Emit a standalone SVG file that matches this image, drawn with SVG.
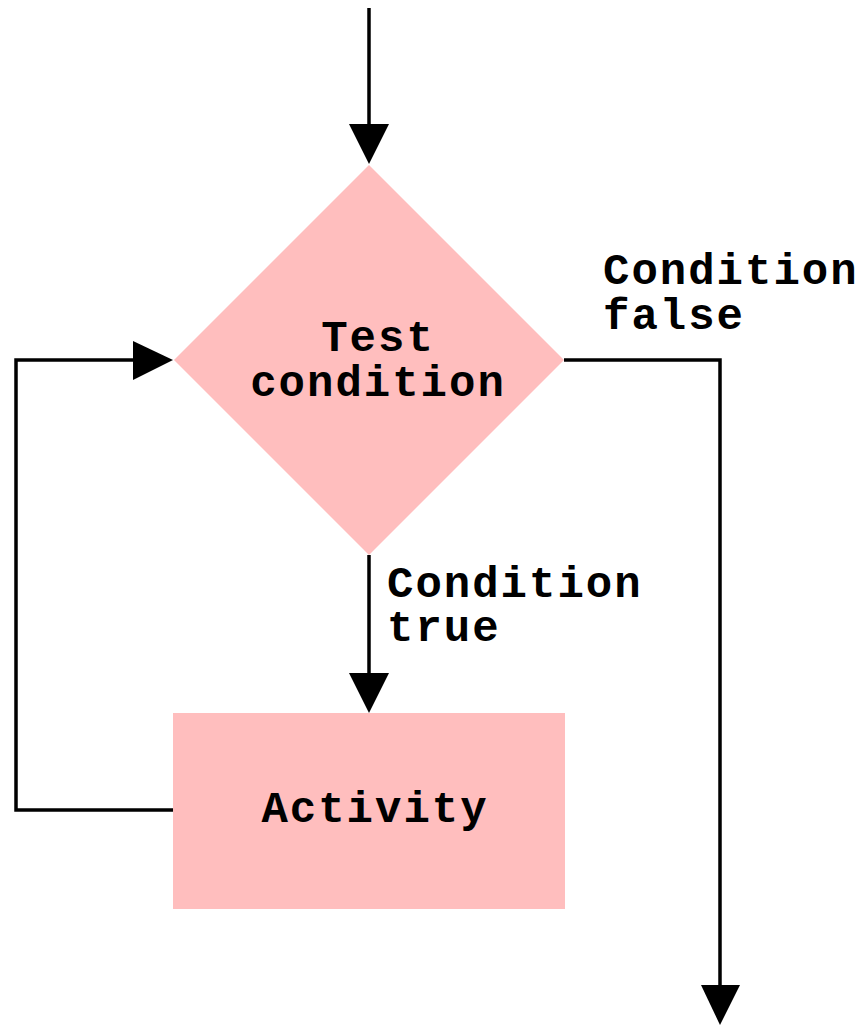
<svg xmlns="http://www.w3.org/2000/svg" width="864" height="1027" viewBox="0 0 864 1027">
  <style>
    .shape { fill: #FFBEBE; stroke: none; }
    .wire { fill: none; stroke: #000; stroke-width: 3.5; }
    .head { fill: #000; stroke: none; }
    .lbl { font-family: "Liberation Mono", "Courier New", monospace; font-weight: bold; font-size: 44px; letter-spacing: 2px; fill: #000; }
  </style>
  <rect width="864" height="1027" fill="#fff"/>

  <g id="connectors">
    <!-- entry -->
    <line class="wire" x1="369" y1="8" x2="369" y2="128"/>
    <polygon class="head" points="349,124 389,124 369,164"/>
    <!-- true branch -->
    <line class="wire" x1="369" y1="555" x2="369" y2="676"/>
    <polygon class="head" points="349,673 389,673 369,713"/>
    <!-- loop back -->
    <polyline class="wire" points="174,810 16,810 16,360 136,360"/>
    <polygon class="head" points="133,341 133,380 173,360"/>
    <!-- false branch -->
    <polyline class="wire" points="564,360 720,360 720,988"/>
    <polygon class="head" points="701,985 740,985 720,1025"/>
  </g>

  <g id="decision">
    <polygon class="shape" points="369,165 564,360 369,555 174,360"/>
    <text class="lbl" x="378" y="351" text-anchor="middle">Test</text>
    <text class="lbl" x="378" y="396" text-anchor="middle">condition</text>
  </g>

  <g id="activity">
    <rect class="shape" x="173" y="713" width="392" height="196"/>
    <text class="lbl" x="375" y="822" text-anchor="middle">Activity</text>
  </g>

  <g id="label-false">
    <text class="lbl" x="603" y="284">Condition</text>
    <text class="lbl" x="603" y="329">false</text>
  </g>

  <g id="label-true">
    <text class="lbl" x="387" y="597">Condition</text>
    <text class="lbl" x="387" y="641">true</text>
  </g>
</svg>
